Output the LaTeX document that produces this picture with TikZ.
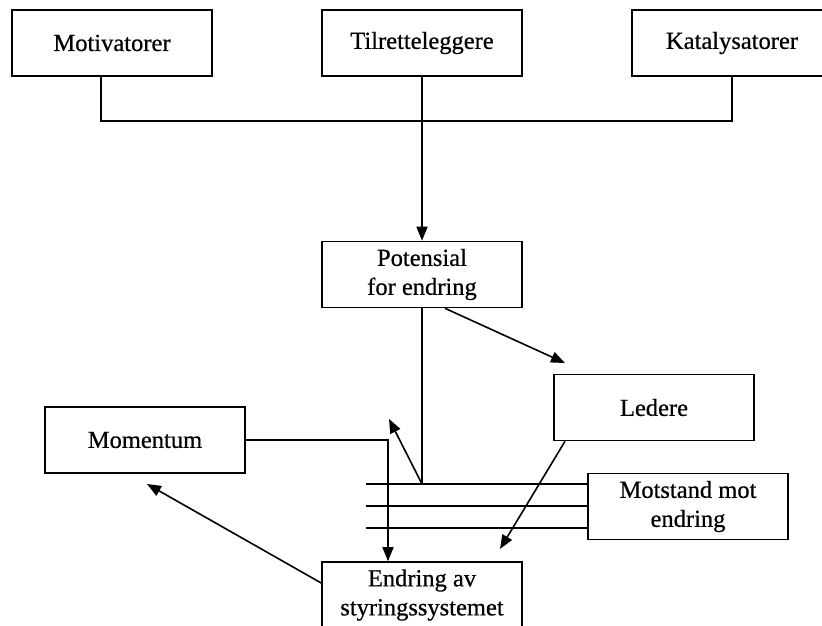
\documentclass[tikz,border=0pt]{standalone}
\usepackage{fontspec}
\setmainfont{Liberation Serif}[BoldFont={Liberation Serif},BoldFeatures={FakeBold=0.6}]
\usetikzlibrary{arrows.meta}
\begin{document}
\begin{tikzpicture}[x=1pt,y=-1pt,
  box/.style={draw,line width=1.6pt,minimum width=200pt,minimum height=66pt,inner sep=0pt,align=center,font=\fontsize{24.5}{29}\selectfont\bfseries},
  ln/.style={line width=1.6pt},
  arr/.style={line width=1.6pt,-{Triangle[length=14pt,width=11pt]}}]
\useasboundingbox (0,0) rectangle (822,626);
\node[box] (motiv) at (112,43) {Motivatorer};
\node[box] (tilr) at (422,43) {Tilretteleggere};
\node[box] (kata) at (732,43) {Katalysatorer};
\node[box] (pot) at (422,274.5) {Potensial\\for endring};
\node[box] (led) at (654,407.5) {Ledere};
\node[box] (motst) at (688,506.5) {Motstand mot\\endring};
\node[box] (mom) at (145,440) {Momentum};
\node[box] (endr) at (422,595) {Endring av\\styringssystemet};
% top connectors
\draw[ln] ([xshift=-11pt]motiv.south) -- ++(0,44) -| (kata.south);
\draw[arr] (tilr.south) -- (pot.north);
% potential
\coordinate (j) at (422,484);
\coordinate (upTip) at (389,419);
\coordinate (ledTip) at (565,363);
\draw[ln] (pot.south) -- (j);
\draw[arr] (j) -- (upTip);
\draw[arr] ([xshift=23pt]pot.south) -- (ledTip);
% three resistance lines
\coordinate (l1) at (366,484);
\coordinate (l2) at (366,506);
\coordinate (l3) at (366,528);
\draw[ln] (l1) -- (l1 -| motst.west);
\draw[ln] (l2) -- (l2 -| motst.west);
\draw[ln] (l3) -- (l3 -| motst.west);
% ledere to endring
\coordinate (endTip) at (500,549);
\draw[arr] ([xshift=-89pt]led.south) -- (endTip);
% momentum to endring
\draw[arr] (mom.east) -| ([xshift=-34pt]endr.north);
% endring to momentum
\coordinate (momTip) at (147,484);
\draw[arr] ([yshift=12pt]endr.west) -- (momTip);
\end{tikzpicture}
\end{document}
